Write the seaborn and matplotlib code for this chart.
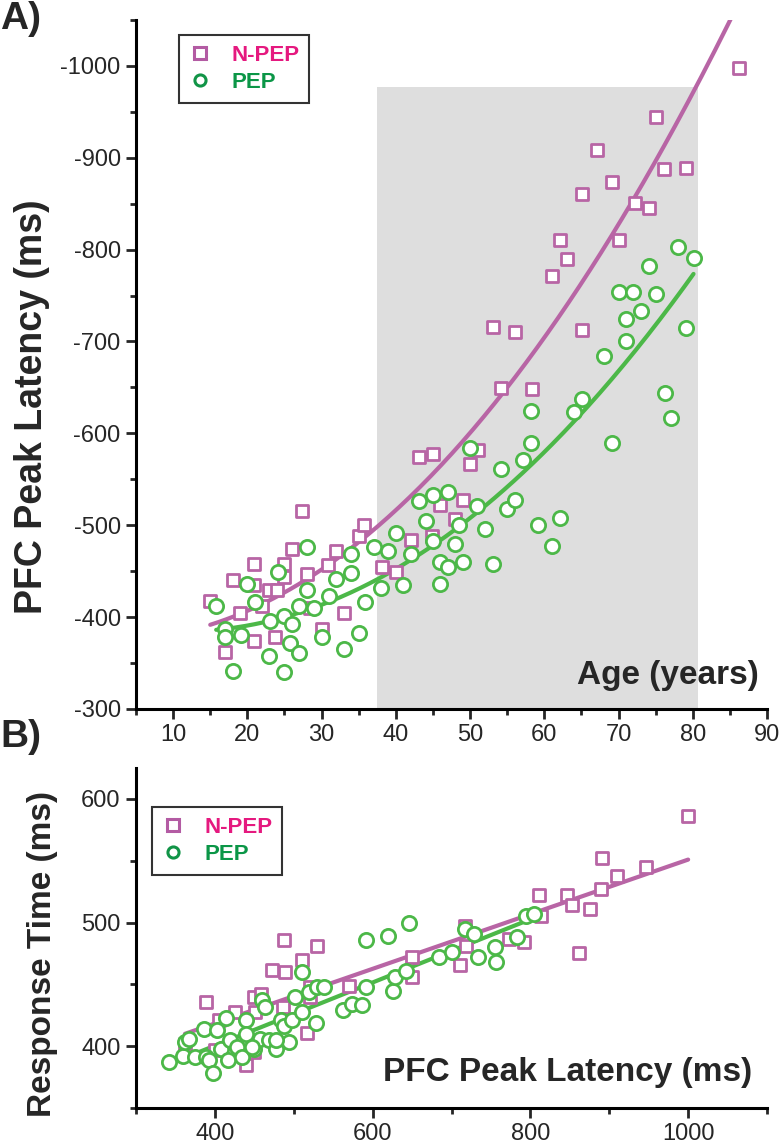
import numpy as np
import matplotlib
matplotlib.use("Agg")
import matplotlib.pyplot as plt
import seaborn as sns
from matplotlib.lines import Line2D
from matplotlib.ticker import MultipleLocator

# panel A: age vs PFC peak latency
npep_age = [15.0, 18.1, 17.0, 20.9, 20.9, 20.9, 19.0, 22.9, 24.0, 25.0, 25.0, 23.7,
            26.0, 28.0, 27.3, 28.5, 32.0, 30.9, 33.0, 30.0, 35.0, 35.7, 38.1, 22.0,
            43.1, 45.0, 51.1, 50.0, 49.0, 46.0, 48.0, 42.0, 44.9, 40.0,
            75.0, 67.1, 76.1, 79.1, 69.1, 65.1, 72.2, 74.1, 70.0, 62.1, 63.1, 61.1,
            53.1, 56.1, 65.1, 54.1, 58.3, 86.2]
npep_lat = [-418, -440, -362, -458, -435, -374, -404, -430, -430, -458, -444, -378,
            -474, -447, -516, -410, -472, -457, -404, -387, -488, -500, -455, -412,
            -574, -578, -582, -567, -528, -522, -507, -484, -488, -449,
            -944, -908, -888, -889, -874, -861, -851, -845, -811, -810, -790, -771,
            -716, -710, -713, -649, -648, -998]

pep_age = [15.8, 17.0, 17.0, 19.1, 18.0, 20.0, 21.0, 22.9, 23.0, 24.1, 25.0, 26.0,
           25.0, 25.8, 26.9, 26.9, 28.0, 28.0, 29.0, 30.0, 31.0, 32.0, 33.0, 33.9,
           33.9, 35.0, 35.9, 37.1, 38.0, 38.9,
           40.0, 41.0, 42.0, 43.1, 44.1, 45.0, 47.0, 45.0, 46.0, 47.0, 46.0, 48.0,
           48.5, 49.0, 51.0, 52.0, 53.1, 50.0, 54.1, 55.0, 56.1, 57.1, 58.2, 58.2,
           59.1, 61.0, 62.1, 64.0, 65.1,
           76.2, 77.1, 69.1, 78.0, 80.1, 74.1, 70.0, 72.0, 75.0, 73.0, 71.0, 71.0,
           79.1, 68.1]
pep_lat = [-412, -387, -378, -381, -341, -436, -416, -358, -396, -449, -401, -393,
           -340, -372, -361, -412, -429, -476, -410, -378, -423, -442, -365, -448,
           -469, -383, -416, -476, -432, -472,
           -492, -435, -469, -526, -505, -533, -536, -483, -460, -455, -436, -480,
           -500, -460, -521, -496, -458, -584, -561, -518, -528, -571, -590, -624,
           -500, -477, -508, -623, -637,
           -644, -617, -589, -803, -791, -782, -754, -754, -752, -733, -725, -700,
           -715, -684]

# panel B: PFC peak latency vs response time
npep_lat2 = [389, 487, 530, 510, 473, 489, 450, 459, 425, 451, 486, 517, 439, 450,
             405, 400, 521, 521, 570, 650, 650, 711, 717, 718, 773, 792, 811, 1000,
             891, 947, 910, 890, 847, 853, 876, 813, 862, 362]
npep_rt = [436, 486, 481, 470, 462, 460, 440, 442, 428, 428, 432, 411, 385, 395,
           421, 397, 440, 448, 449, 472, 456, 466, 497, 481, 487, 484, 522, 586,
           552, 545, 538, 527, 522, 514, 511, 505, 475, 402]

pep_lat2 = [342, 360, 362, 367, 375, 386, 389, 392, 398, 403, 408, 414, 417, 419,
            428, 434, 439, 439, 449, 457, 460, 464, 468, 477, 484, 487, 494, 498,
            502, 510, 510, 519, 528, 530, 538, 563, 574, 586, 591, 591, 620, 626,
            628, 646, 642, 684, 701, 717, 728, 734, 755, 756, 783, 794, 805, 478, 447]
pep_rt = [387, 392, 403, 406, 391, 414, 391, 389, 378, 413, 398, 423, 389, 405,
          399, 391, 421, 410, 398, 406, 437, 432, 405, 398, 421, 416, 403, 421,
          440, 460, 428, 444, 419, 448, 448, 429, 434, 433, 448, 486, 489, 445,
          456, 500, 461, 472, 476, 495, 491, 472, 480, 468, 488, 505, 507, 405, 399]

shade_age = [37.4, 80.7]
shade_top = -977

MAG = "#b865a5"
GRN = "#4cb848"

sns.set_style("white")
plt.rcParams["font.family"] = ["Liberation Sans", "DejaVu Sans"]
plt.rcParams["axes.unicode_minus"] = False

fig = plt.figure(figsize=(7.79, 11.47), dpi=100)
ax1 = fig.add_axes([0.1746, 0.3819, 0.81, 0.6007])
ax2 = fig.add_axes([0.1746, 0.034, 0.81, 0.2964])


def fit_line(ax, x, y, deg, color):
    c = np.polyfit(x, y, deg)
    xs = np.linspace(min(x), max(x), 200)
    ax.plot(xs, np.polyval(c, xs), color=color, lw=3, zorder=2)


def scatter(ax, x, y, marker, color, size):
    sns.scatterplot(x=x, y=y, ax=ax, marker=marker, s=size, facecolor="white",
                    edgecolor=color, linewidth=2.0, zorder=3, legend=False)


def style(ax):
    for side in ["top", "right"]:
        ax.spines[side].set_visible(False)
    for side in ["left", "bottom"]:
        ax.spines[side].set_linewidth(2.2)
        ax.spines[side].set_color("black")
    ax.tick_params(which="major", direction="out", length=7, width=2, labelsize=17,
                   pad=4, left=True, bottom=True)
    ax.tick_params(which="minor", direction="out", length=4, width=2, left=True,
                   bottom=True)


def legend(ax, anchor):
    h = [Line2D([], [], ls="", marker="s", ms=8, mfc="white", mec="#b35ba3", mew=2.2),
         Line2D([], [], ls="", marker="o", ms=8, mfc="white", mec="#119447", mew=2.2)]
    lg = ax.legend(h, ["N-PEP", "PEP"], loc="upper left", bbox_to_anchor=anchor,
                   borderaxespad=0, frameon=True, fancybox=False, edgecolor="black",
                   prop={"size": 16, "weight": "bold"}, handlelength=1.0,
                   handletextpad=0.9, labelspacing=0.25, borderpad=0.45)
    lg.get_frame().set_linewidth(1.5)
    lg.get_texts()[0].set_color("#e5197f")
    lg.get_texts()[1].set_color("#0b9647")


# panel A
ax1.fill_between(shade_age, -300, shade_top, color="#dedede", lw=0, zorder=0)
scatter(ax1, npep_age, npep_lat, "s", MAG, 85)
scatter(ax1, pep_age, pep_lat, "o", GRN, 105)
fit_line(ax1, npep_age, npep_lat, 2, MAG)
fit_line(ax1, pep_age, pep_lat, 2, GRN)
ax1.set_xlim(5, 90)
ax1.set_ylim(-300, -1050)
ax1.xaxis.set_major_locator(MultipleLocator(10))
ax1.xaxis.set_minor_locator(MultipleLocator(5))
ax1.yaxis.set_major_locator(MultipleLocator(100))
ax1.yaxis.set_minor_locator(MultipleLocator(50))
style(ax1)
ax1.set_xlabel("")
ax1.set_ylabel("PFC Peak Latency (ms)", fontsize=27, fontweight="bold")
ax1.yaxis.set_label_coords(-0.136, 0.438)
ax1.text(0.987, 0.036, "Age (years)", transform=ax1.transAxes, ha="right",
         va="baseline", fontsize=24, fontweight="bold")
legend(ax1, (0.068, 0.978))

# panel B
scatter(ax2, npep_lat2, npep_rt, "s", MAG, 85)
scatter(ax2, pep_lat2, pep_rt, "o", GRN, 105)
fit_line(ax2, npep_lat2, npep_rt, 1, MAG)
fit_line(ax2, pep_lat2, pep_rt, 1, GRN)
ax2.set_xlim(300, 1100)
ax2.set_ylim(350, 625)
ax2.xaxis.set_major_locator(MultipleLocator(200))
ax2.xaxis.set_minor_locator(MultipleLocator(100))
ax2.yaxis.set_major_locator(MultipleLocator(100))
ax2.yaxis.set_minor_locator(MultipleLocator(50))
style(ax2)
ax2.set_xlabel("")
ax2.set_ylabel("Response Time (ms)", fontsize=24, fontweight="bold")
ax2.yaxis.set_label_coords(-0.124, 0.453)
ax2.text(0.976, 0.079, "PFC Peak Latency (ms)", transform=ax2.transAxes, ha="right",
         va="baseline", fontsize=24, fontweight="bold")
legend(ax2, (0.025, 0.885))

fig.text(0.0, 0.999, "A)", ha="left", va="top", fontsize=28, fontweight="bold")
fig.text(0.0, 0.373, "B)", ha="left", va="top", fontsize=28, fontweight="bold")

fig.savefig("out.png", dpi=100)
